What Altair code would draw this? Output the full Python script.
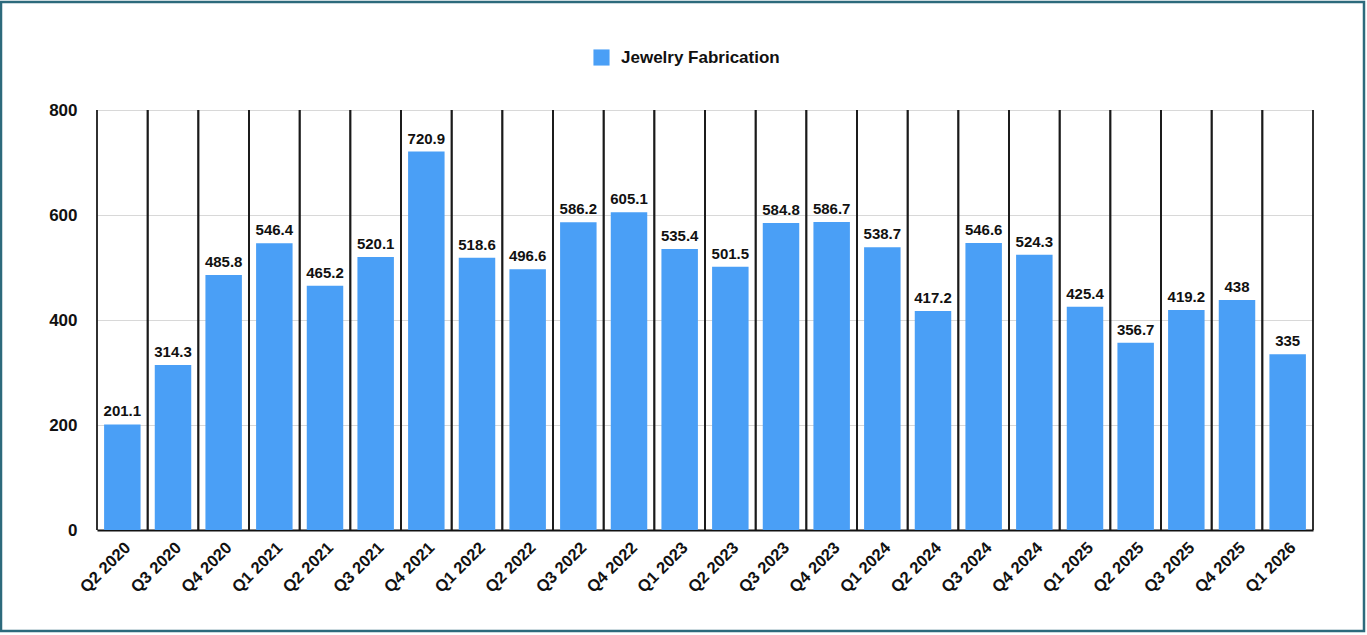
import altair as alt
import pandas as pd

quarters = ["Q2 2020", "Q3 2020", "Q4 2020", "Q1 2021", "Q2 2021", "Q3 2021", "Q4 2021",
            "Q1 2022", "Q2 2022", "Q3 2022", "Q4 2022", "Q1 2023", "Q2 2023", "Q3 2023",
            "Q4 2023", "Q1 2024", "Q2 2024", "Q3 2024", "Q4 2024", "Q1 2025", "Q2 2025",
            "Q3 2025", "Q4 2025", "Q1 2026"]
values = [201.1, 314.3, 485.8, 546.4, 465.2, 520.1, 720.9, 518.6, 496.6, 586.2, 605.1, 535.4,
          501.5, 584.8, 586.7, 538.7, 417.2, 546.6, 524.3, 425.4, 356.7, 419.2, 438, 335]
series_name = "Jewelry Fabrication"

df = pd.DataFrame({"q": quarters, "v": values, "series": [series_name] * len(quarters)})

FONT = "Liberation Sans"
W, H = 1216, 420

xenc = alt.X("q:N", sort=quarters,
             scale=alt.Scale(paddingInner=0, paddingOuter=0),
             axis=alt.Axis(title=None, labelAngle=-45, labelFontSize=16.5, labelFontWeight="bold",
                           labelColor="#111", labelPadding=9, ticks=False, domainColor="#111",
                           domainWidth=2, grid=False, labelFont=FONT))
yenc = alt.Y("v:Q", scale=alt.Scale(domain=[0, 800]),
             axis=alt.Axis(title=None, values=[0, 200, 400, 600, 800], ticks=False, domain=False,
                           labelFontSize=17, labelFontWeight="bold", labelColor="#111",
                           labelPadding=20, gridColor="#d8d8d8", gridWidth=1, labelFont=FONT))

bars = alt.Chart(df).mark_bar(width=alt.RelativeBandSize(0.72)).encode(
    x=xenc, y=yenc,
    color=alt.Color("series:N", scale=alt.Scale(range=["#4a9ff6"]),
                    legend=alt.Legend(title=None, orient="none", legendX=496, legendY=-61,
                                      symbolType="square", symbolSize=260, symbolStrokeWidth=0,
                                      labelFontSize=17, labelFontWeight="bold", labelColor="#111",
                                      labelFont=FONT, labelOffset=11)),
)

labels = alt.Chart(df).mark_text(dy=-5, baseline="bottom", fontSize=15, fontWeight="bold",
                                 color="#111", font=FONT).encode(
    x=alt.X("q:N", sort=quarters), y="v:Q", text=alt.Text("v:Q"))

sep_left = alt.Chart(df).mark_rule(color="#1a1a1a", strokeWidth=1.8).encode(
    x=alt.X("q:N", sort=quarters, bandPosition=0), y=alt.value(0), y2=alt.value(H))
sep_right = alt.Chart(df).mark_rule(color="#1a1a1a", strokeWidth=1.8).encode(
    x=alt.X("q:N", sort=quarters, bandPosition=1), y=alt.value(0), y2=alt.value(H))

frame = alt.Chart(alt.Data(values=[{"a": 1}])).mark_rect(
    fill="transparent", stroke="#2d6a7c", strokeWidth=2.5).encode(
    x=alt.value(-96), x2=alt.value(1267), y=alt.value(-108), y2=alt.value(521))

chart = alt.layer(bars, sep_left, sep_right, labels, frame).properties(
    width=W, height=H,
    autosize=alt.AutoSizeParams(type="none"),
    padding={"left": 97, "top": 110, "right": 54, "bottom": 105},
    background="white",
).configure_view(stroke=None)

chart.save("out.html", embed_options={"renderer": "svg", "actions": False})
